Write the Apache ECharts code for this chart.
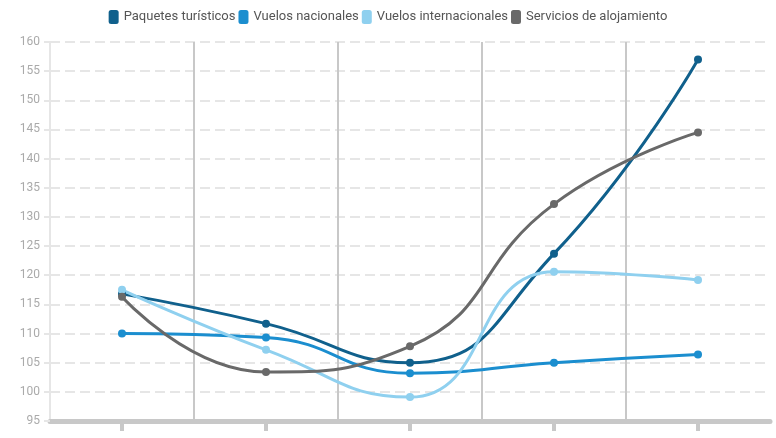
<!DOCTYPE html>
<html>
<head>
<meta charset="utf-8">
<script src="https://cdn.jsdelivr.net/npm/echarts@6/dist/echarts.min.js"></script>
<style>
    html, body { margin: 0; padding: 0; background: #fff; }
    #chart { width: 776px; height: 438px; }
</style>
</head>
<body>
<div id="chart"></div>
<script>
// periodos (sin etiqueta visible en el gráfico)
const periodos = ['P1', 'P2', 'P3', 'P4', 'P5'];

const paquetesTuristicos = [116.8, 111.7, 105.0, 123.7, 157.0];
const vuelosNacionales = [110.0, 109.3, 103.2, 105.0, 106.4];
const vuelosInternacionales = [117.5, 107.2, 99.1, 120.6, 119.2];
const serviciosAlojamiento = [116.3, 103.4, 107.8, 132.2, 144.5];

const seriesNames = ['Paquetes turísticos', 'Vuelos nacionales', 'Vuelos internacionales', 'Servicios de alojamiento'];
const seriesColors = ['#10608c', '#1b8ecf', '#8fd0ef', '#696969'];

const chart = echarts.init(document.getElementById('chart'));

function makeLine (name, data, color) {
    return {
        name: name,
        type: 'line',
        data: data,
        smooth: true,
        symbol: 'circle',
        symbolSize: 8,
        lineStyle: { width: 3, color: color },
        itemStyle: { color: color }
    };
}

chart.setOption({
    textStyle: { fontFamily: 'Roboto' },
    color: seriesColors,
    legend: {
        top: 5,
        left: 'center',
        itemWidth: 10,
        itemHeight: 14,
        itemGap: 3,
        icon: 'roundRect',
        textStyle: { color: '#555', fontSize: 13, fontFamily: 'Roboto' },
        data: seriesNames
    },
    grid: { left: 50, right: 6, top: 42, bottom: 17 },
    xAxis: {
        type: 'category',
        data: periodos,
        boundaryGap: true,
        axisLine: { lineStyle: { color: '#c8c8c8', width: 5 } },
        axisTick: {
            show: true,
            interval: 0,
            alignWithLabel: true,
            length: 10,
            lineStyle: { color: '#c8c8c8', width: 4 }
        },
        // las etiquetas del eje no se muestran en el original
        axisLabel: { show: true, interval: 0, formatter: () => '' },
        splitLine: {
            show: true,
            interval: 0,
            showMinLine: false,
            showMaxLine: false,
            lineStyle: { color: '#c8c8c8', width: 2 }
        }
    },
    yAxis: {
        type: 'value',
        min: 95,
        max: 160,
        interval: 5,
        axisLine: { show: true, lineStyle: { color: '#e6e6e6', width: 2 } },
        axisTick: { show: true, length: 6, lineStyle: { color: '#e6e6e6', width: 2 } },
        axisLabel: { color: '#aaa', fontSize: 12, margin: 10 },
        splitLine: { lineStyle: { color: '#e6e6e6', width: 2, type: [10, 5] } }
    },
    series: [
        makeLine(seriesNames[0], paquetesTuristicos, seriesColors[0]),
        makeLine(seriesNames[1], vuelosNacionales, seriesColors[1]),
        makeLine(seriesNames[2], vuelosInternacionales, seriesColors[2]),
        makeLine(seriesNames[3], serviciosAlojamiento, seriesColors[3])
    ]
});
</script>
</body>
</html>
